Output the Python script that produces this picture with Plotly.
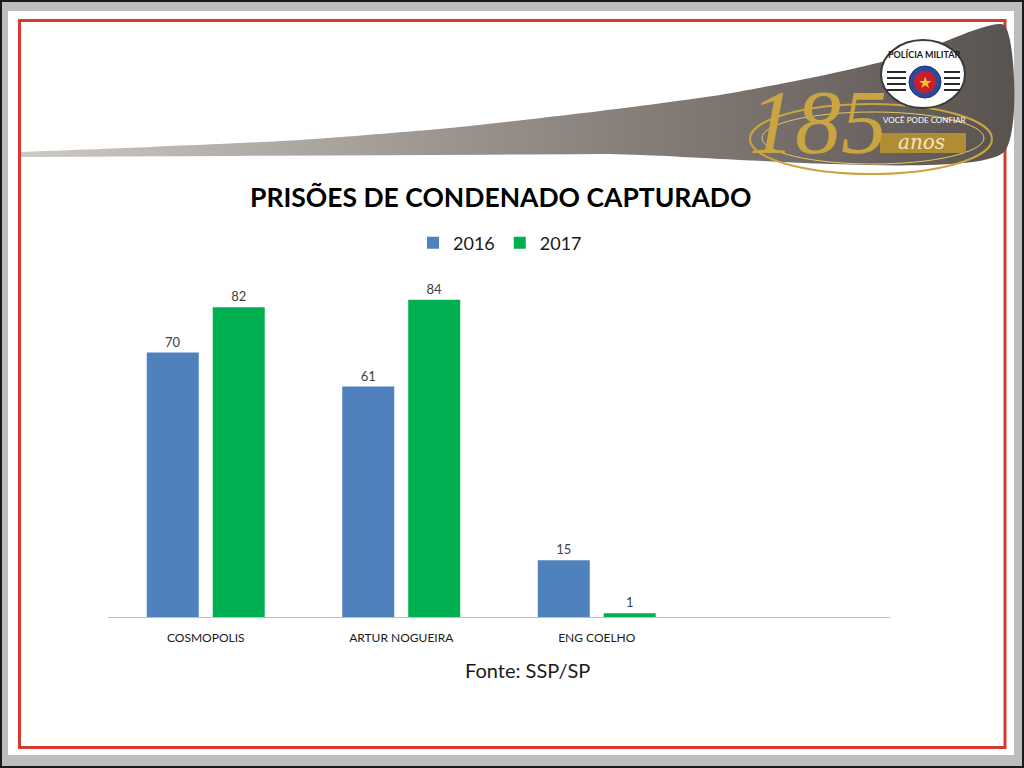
import plotly.graph_objects as go

W, H = 1024, 768

categorias = ["COSMOPOLIS", "ARTUR NOGUEIRA", "ENG COELHO"]
anos = ["2016", "2017"]
presos_2016 = [70, 61, 15]
presos_2017 = [82, 84, 1]
cores = ["#4f81bd", "#00b050"]

# contorno da faixa cinza do topo (pixels)
faixa_x = [21, 150, 300, 450, 600, 720, 820, 910, 1004, 1004, 600, 21]
faixa_y = [152, 147, 140, 128, 111, 95, 76, 55, 25, 152, 154, 157]

FONT = "Lato, 'Open Sans', sans-serif"


def px(x):
    return x / W


def py(y):
    return 1 - y / H


fig = go.Figure()

for ano, vals, cor in zip(anos, [presos_2016, presos_2017], cores):
    fig.add_trace(
        go.Bar(
            name=ano,
            x=categorias,
            y=vals,
            marker=dict(color=cor, line=dict(width=0)),
            text=vals,
            textposition="outside",
            textfont=dict(size=13, color="#404040", family=FONT),
            cliponaxis=False,
            hoverinfo="x+y+name",
        )
    )

# faixa decorativa com gradiente
fig.add_trace(
    go.Scatter(
        x=faixa_x,
        y=faixa_y,
        xaxis="x2",
        yaxis="y2",
        mode="lines",
        line=dict(width=0, shape="spline", smoothing=0.6),
        fill="toself",
        fillgradient=dict(
            type="horizontal",
            colorscale=[[0, "#cdc9c5"], [0.55, "#8e8680"], [1, "#595350"]],
        ),
        showlegend=False,
        hoverinfo="skip",
    )
)

shapes = [
    # fundo branco dentro da moldura cinza
    dict(type="rect", xref="paper", yref="paper", layer="below",
         x0=px(8), x1=px(1014), y0=py(11), y1=py(755),
         fillcolor="white", line=dict(width=0)),
    # moldura vermelha
    dict(type="rect", xref="paper", yref="paper", layer="below",
         x0=px(19.5), x1=px(1005), y0=py(20.5), y1=py(747.5),
         line=dict(color="#d9392f", width=3)),
    # borda preta externa
    dict(type="rect", xref="paper", yref="paper", layer="below",
         x0=px(1), x1=px(1023), y0=py(1), y1=py(767),
         line=dict(color="#1a1a1a", width=2)),
    # aneis dourados do logo
    dict(type="circle", xref="paper", yref="paper", layer="above",
         x0=px(750), x1=px(992), y0=py(104), y1=py(174),
         line=dict(color="#c9a441", width=2)),
    dict(type="circle", xref="paper", yref="paper", layer="above",
         x0=px(762), x1=px(984), y0=py(112), y1=py(164),
         line=dict(color="#e3c76a", width=1)),
    # faixa "anos"
    dict(type="rect", xref="paper", yref="paper", layer="above",
         x0=px(880), x1=px(966), y0=py(133), y1=py(153),
         fillcolor="#b08d35", line=dict(width=0)),
    # brasao
    dict(type="circle", xref="paper", yref="paper", layer="above",
         x0=px(881), x1=px(965), y0=py(40), y1=py(108),
         fillcolor="white", line=dict(color="#3a3a3a", width=2)),
    dict(type="circle", xref="paper", yref="paper", layer="above",
         x0=px(909), x1=px(941), y0=py(66), y1=py(98),
         fillcolor="#2b4a9b", line=dict(color="#1c2f66", width=1)),
    dict(type="circle", xref="paper", yref="paper", layer="above",
         x0=px(914), x1=px(936), y0=py(71), y1=py(93),
         fillcolor="#c8202a", line=dict(width=0)),
]
for yy in [72, 78, 84, 90]:
    shapes.append(dict(type="line", xref="paper", yref="paper", layer="above",
                       x0=px(887), x1=px(906), y0=py(yy), y1=py(yy),
                       line=dict(color="#2a2a2a", width=2)))
    shapes.append(dict(type="line", xref="paper", yref="paper", layer="above",
                       x0=px(944), x1=px(960), y0=py(yy), y1=py(yy),
                       line=dict(color="#2a2a2a", width=2)))

annotations = [
    dict(text="<b>PRISÕES DE CONDENADO CAPTURADO</b>", x=px(500), y=py(197),
         font=dict(size=26.5, color="black", family=FONT)),
    dict(text="Fonte: SSP/SP", x=px(527), y=py(670),
         font=dict(size=20, color="#1a1a1a", family=FONT)),
    dict(text="<i>185</i>", x=px(818), y=py(122),
         font=dict(size=92, color="#c9a441",
                   family="'Liberation Serif', serif")),
    dict(text="<i>anos</i>", x=px(921), y=py(142),
         font=dict(size=20, color="#f3e6bd", family="'DejaVu Serif', serif")),
    dict(text="VOCÊ PODE CONFIAR", x=px(924), y=py(120),
         font=dict(size=8, color="white", family=FONT)),
    dict(text="<b>POLÍCIA MILITAR</b>", x=px(924), y=py(54),
         font=dict(size=9, color="#1a1a1a", family=FONT)),
    dict(text="★", x=px(925), y=py(82),
         font=dict(size=16, color="#f2c230", family="DejaVu Sans")),
]
for a in annotations:
    a.update(xref="paper", yref="paper", showarrow=False,
             xanchor="center", yanchor="middle")

fig.update_layout(
    width=W,
    height=H,
    margin=dict(l=0, r=0, t=0, b=0),
    paper_bgcolor="#bdbdbd",
    plot_bgcolor="rgba(0,0,0,0)",
    barmode="group",
    bargap=0.325,
    bargroupgap=0.212,
    font=dict(family=FONT, color="#1a1a1a"),
    showlegend=True,
    legend=dict(
        orientation="h",
        x=px(500),
        y=py(243),
        xanchor="center",
        yanchor="middle",
        font=dict(size=18, color="#1a1a1a", family=FONT),
        bgcolor="rgba(0,0,0,0)",
    ),
    xaxis=dict(
        domain=[px(108), px(890)],
        range=[-0.5, 3.5],
        showline=True,
        linecolor="#bfbfbf",
        linewidth=1,
        showgrid=False,
        zeroline=False,
        ticks="",
        ticklabelstandoff=10,
        tickfont=dict(size=12, color="#1a1a1a", family=FONT),
        fixedrange=True,
    ),
    yaxis=dict(
        domain=[py(617), py(277)],
        range=[0, 90],
        visible=False,
        fixedrange=True,
    ),
    xaxis2=dict(domain=[0, 1], range=[0, W], visible=False,
                anchor="y2", fixedrange=True),
    yaxis2=dict(domain=[0, 1], range=[H, 0], visible=False,
                anchor="x2", fixedrange=True),
    shapes=shapes,
    annotations=annotations,
)

fig.write_html(
    "out.html",
    config={"displayModeBar": False},
    post_script="document.body.style.margin='0px';",
)
